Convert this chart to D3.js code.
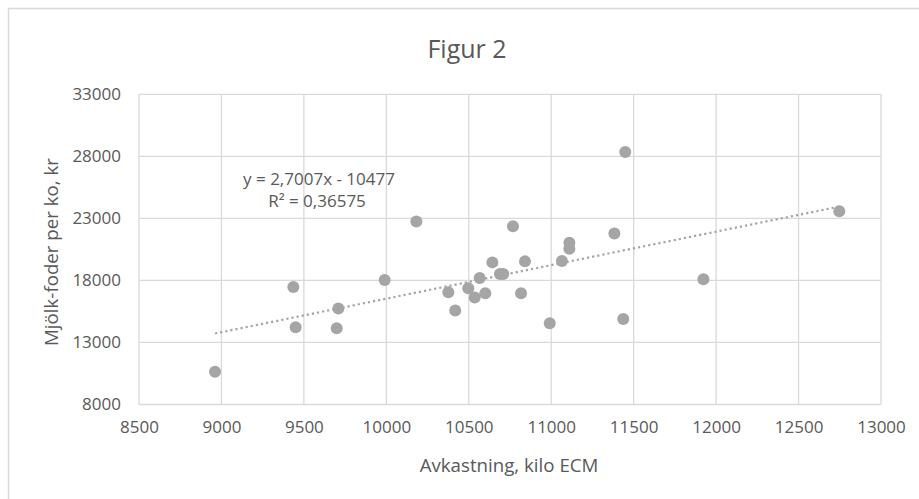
<!doctype html>
<meta charset="utf-8">
<style>
body {
  margin: 0;
  background: #fff;
  font-family: "Open Sans", sans-serif;
}
</style>
<script src="https://cdn.jsdelivr.net/npm/d3@7"></script>
<body>

<script>

var w = 919, h = 499;

// avkastning (kilo ECM) and mjölk-foder per ko (kr)
var avkastning = [8961, 9436, 9450, 9709, 9699, 9990, 10182, 10376, 10418, 10497,
  10536, 10600, 10566, 10643, 10689, 10709, 10768, 10841, 10817, 10991,
  11065, 11110, 11110, 11383, 11449, 11437, 11923, 12747];
var foder = [10637, 17469, 14229, 15732, 14148, 18031, 22750, 17042, 15571, 17364,
  16616, 16962, 18192, 19454, 18514, 18514, 22372, 19535, 16962, 14550,
  19559, 21038, 20555, 21785, 28353, 14896, 18087, 23578];

var xTicks = [8500, 9000, 9500, 10000, 10500, 11000, 11500, 12000, 12500, 13000];
var yTicks = [8000, 13000, 18000, 23000, 28000, 33000];

// trendline from the chart
var slope = 2.7007, intercept = -10477;

var points = avkastning.map(function(d, i) { return {x: d, y: foder[i]}; });

var margin = {left: 139, right: 919 - 881, top: 94.3, bottom: 499 - 404.5};

var x = d3.scaleLinear().domain([8500, 13000]).range([margin.left, w - margin.right]);
var y = d3.scaleLinear().domain([8000, 33000]).range([h - margin.bottom, margin.top]);

var grid = "#d9d9d9", text = "#595959", dot = "#a5a5a5";

var svg = d3.select("body")
  .append("svg")
    .attr("width", w)
    .attr("height", h);

// chart border
svg.append("rect")
    .attr("x", 8.5)
    .attr("y", 8.5)
    .attr("width", w + 20)
    .attr("height", h + 20)
    .style("fill", "none")
    .style("stroke", grid)
    .style("stroke-width", 1.5);

// gridlines
svg.append("g")
  .selectAll("line")
  .data(xTicks)
  .enter().append("line")
    .attr("x1", function(d) { return x(d); })
    .attr("x2", function(d) { return x(d); })
    .attr("y1", y(8000))
    .attr("y2", y(33000))
    .style("stroke", grid)
    .style("stroke-width", 1.3);

svg.append("g")
  .selectAll("line")
  .data(yTicks)
  .enter().append("line")
    .attr("x1", x(8500))
    .attr("x2", x(13000))
    .attr("y1", function(d) { return y(d); })
    .attr("y2", function(d) { return y(d); })
    .style("stroke", grid)
    .style("stroke-width", 1.3);

// axes, labels only
var xAxis = svg.append("g")
    .attr("transform", "translate(0," + y(8000) + ")")
    .call(d3.axisBottom(x).tickValues(xTicks).tickSize(0).tickPadding(16).tickFormat(d3.format("d")));
var yAxis = svg.append("g")
    .attr("transform", "translate(" + x(8500) + ",0)")
    .call(d3.axisLeft(y).tickValues(yTicks).tickSize(0).tickPadding(18).tickFormat(d3.format("d")));

[xAxis, yAxis].forEach(function(a) {
  a.select(".domain").remove();
  a.selectAll("text")
      .style("font-family", "Open Sans")
      .style("font-size", "17px")
      .style("fill", text);
});

// trendline
var xs = d3.extent(avkastning);
svg.append("line")
    .attr("x1", x(xs[0]))
    .attr("y1", y(slope * xs[0] + intercept))
    .attr("x2", x(xs[1]))
    .attr("y2", y(slope * xs[1] + intercept))
    .style("stroke", dot)
    .style("stroke-width", 2.2)
    .style("stroke-dasharray", "2.2 3");

// points
svg.append("g")
  .selectAll("circle")
  .data(points)
  .enter().append("circle")
    .attr("cx", function(d) { return x(d.x); })
    .attr("cy", function(d) { return y(d.y); })
    .attr("r", 6)
    .style("fill", dot);

// title
svg.append("text")
    .attr("x", 467)
    .attr("y", 58)
    .attr("text-anchor", "middle")
    .style("font-size", "25px")
    .style("fill", text)
    .text("Figur 2");

// equation
svg.append("text")
    .attr("x", 319)
    .attr("y", 185)
    .attr("text-anchor", "middle")
    .style("font-size", "17px")
    .style("fill", text)
    .text("y = 2,7007x - 10477");
svg.append("text")
    .attr("x", 317)
    .attr("y", 207)
    .attr("text-anchor", "middle")
    .style("font-size", "17px")
    .style("fill", text)
    .text("R² = 0,36575");

// axis titles
svg.append("text")
    .attr("x", 509)
    .attr("y", 472)
    .attr("text-anchor", "middle")
    .style("font-size", "18.7px")
    .style("fill", text)
    .text("Avkastning, kilo ECM");

svg.append("text")
    .attr("transform", "translate(58,252) rotate(-90)")
    .attr("text-anchor", "middle")
    .style("font-size", "18.7px")
    .style("fill", text)
    .text("Mjölk-foder per ko, kr");

</script>
